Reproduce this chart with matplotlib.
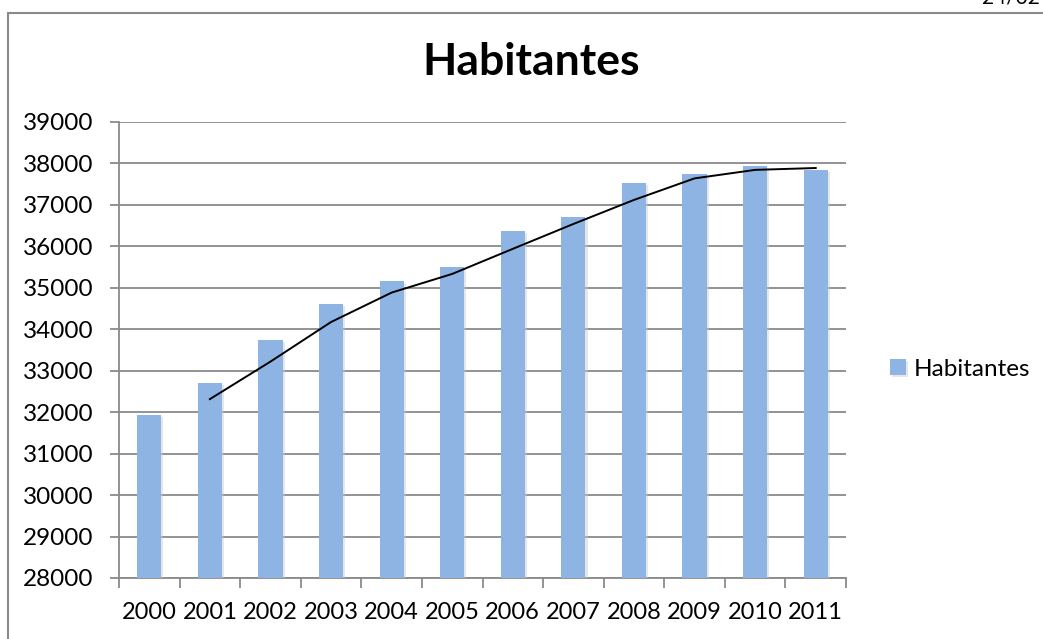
import numpy as np
import matplotlib.pyplot as plt
import matplotlib.patheffects as pe
from matplotlib.patches import Rectangle

# Population per year
years = ['2000', '2001', '2002', '2003', '2004', '2005',
         '2006', '2007', '2008', '2009', '2010', '2011']
habitantes = [31930, 32700, 33740, 34610, 35160, 35510,
              36370, 36710, 37530, 37750, 37940, 37840]

plt.rcParams['font.family'] = ['Lato', 'DejaVu Sans']

fig = plt.figure(figsize=(10.43, 6.39), dpi=100)
ax = fig.add_axes([119/1043, 1 - 578/639, (846 - 119)/1043, (578 - 122)/639])

x = np.arange(len(years))
bars = ax.bar(x, habitantes, width=0.4, color='#8EB4E3', zorder=3,
              label='Habitantes')
for b in bars:
    b.set_path_effects([pe.SimplePatchShadow(offset=(1.5, -1.5), shadow_rgbFace='#c8c8c8', alpha=0.45),
                        pe.Normal()])

# 2-period moving average trend line
vals = np.array(habitantes, dtype=float)
mov = (vals[1:] + vals[:-1]) / 2
ax.plot(x[1:], mov, color='black', lw=1.4, zorder=4)

ax.set_ylim(28000, 39000)
ax.set_xlim(-0.5, len(years) - 0.5)
ax.set_yticks(np.arange(28000, 39001, 1000))
ax.yaxis.grid(True, color='#8a8a8a', lw=1.3, zorder=0)
ax.set_axisbelow(True)

ax.set_xticks(x)
ax.set_xticklabels(years)
ax.set_xticks(np.arange(-0.5, len(years)), minor=True)
ax.tick_params(axis='x', which='major', length=0, pad=17, labelsize=17)
ax.tick_params(axis='x', which='minor', length=7, width=1.3, color='#8a8a8a', direction='out')
ax.tick_params(axis='y', length=6.5, width=1.3, color='#8a8a8a', labelsize=17.5, pad=12)

for s in ['top', 'right']:
    ax.spines[s].set_visible(False)
for s in ['left', 'bottom']:
    ax.spines[s].set_color('#8a8a8a')
    ax.spines[s].set_linewidth(1.3)

fig.text(531/1043, 1 - 62/639, 'Habitantes', ha='center', va='center',
         fontsize=32, fontweight='bold')

ax.legend(loc='center left', bbox_to_anchor=(868/1043, 1 - 369/639),
          bbox_transform=fig.transFigure, frameon=False, fontsize=17.5,
          handlelength=0.65, handleheight=0.65, handletextpad=0.35)

# chart frame and page number
fig.patches.append(Rectangle((8/1043, -0.1), 1.1, 1 - 13/639 + 0.1,
                             transform=fig.transFigure, fill=False,
                             edgecolor='#8a8a8a', lw=1.5))
fig.text(1040/1043, 1 + 3/639, '24/02', ha='right', va='center', fontsize=15)

fig.savefig('out.png', dpi=100)
